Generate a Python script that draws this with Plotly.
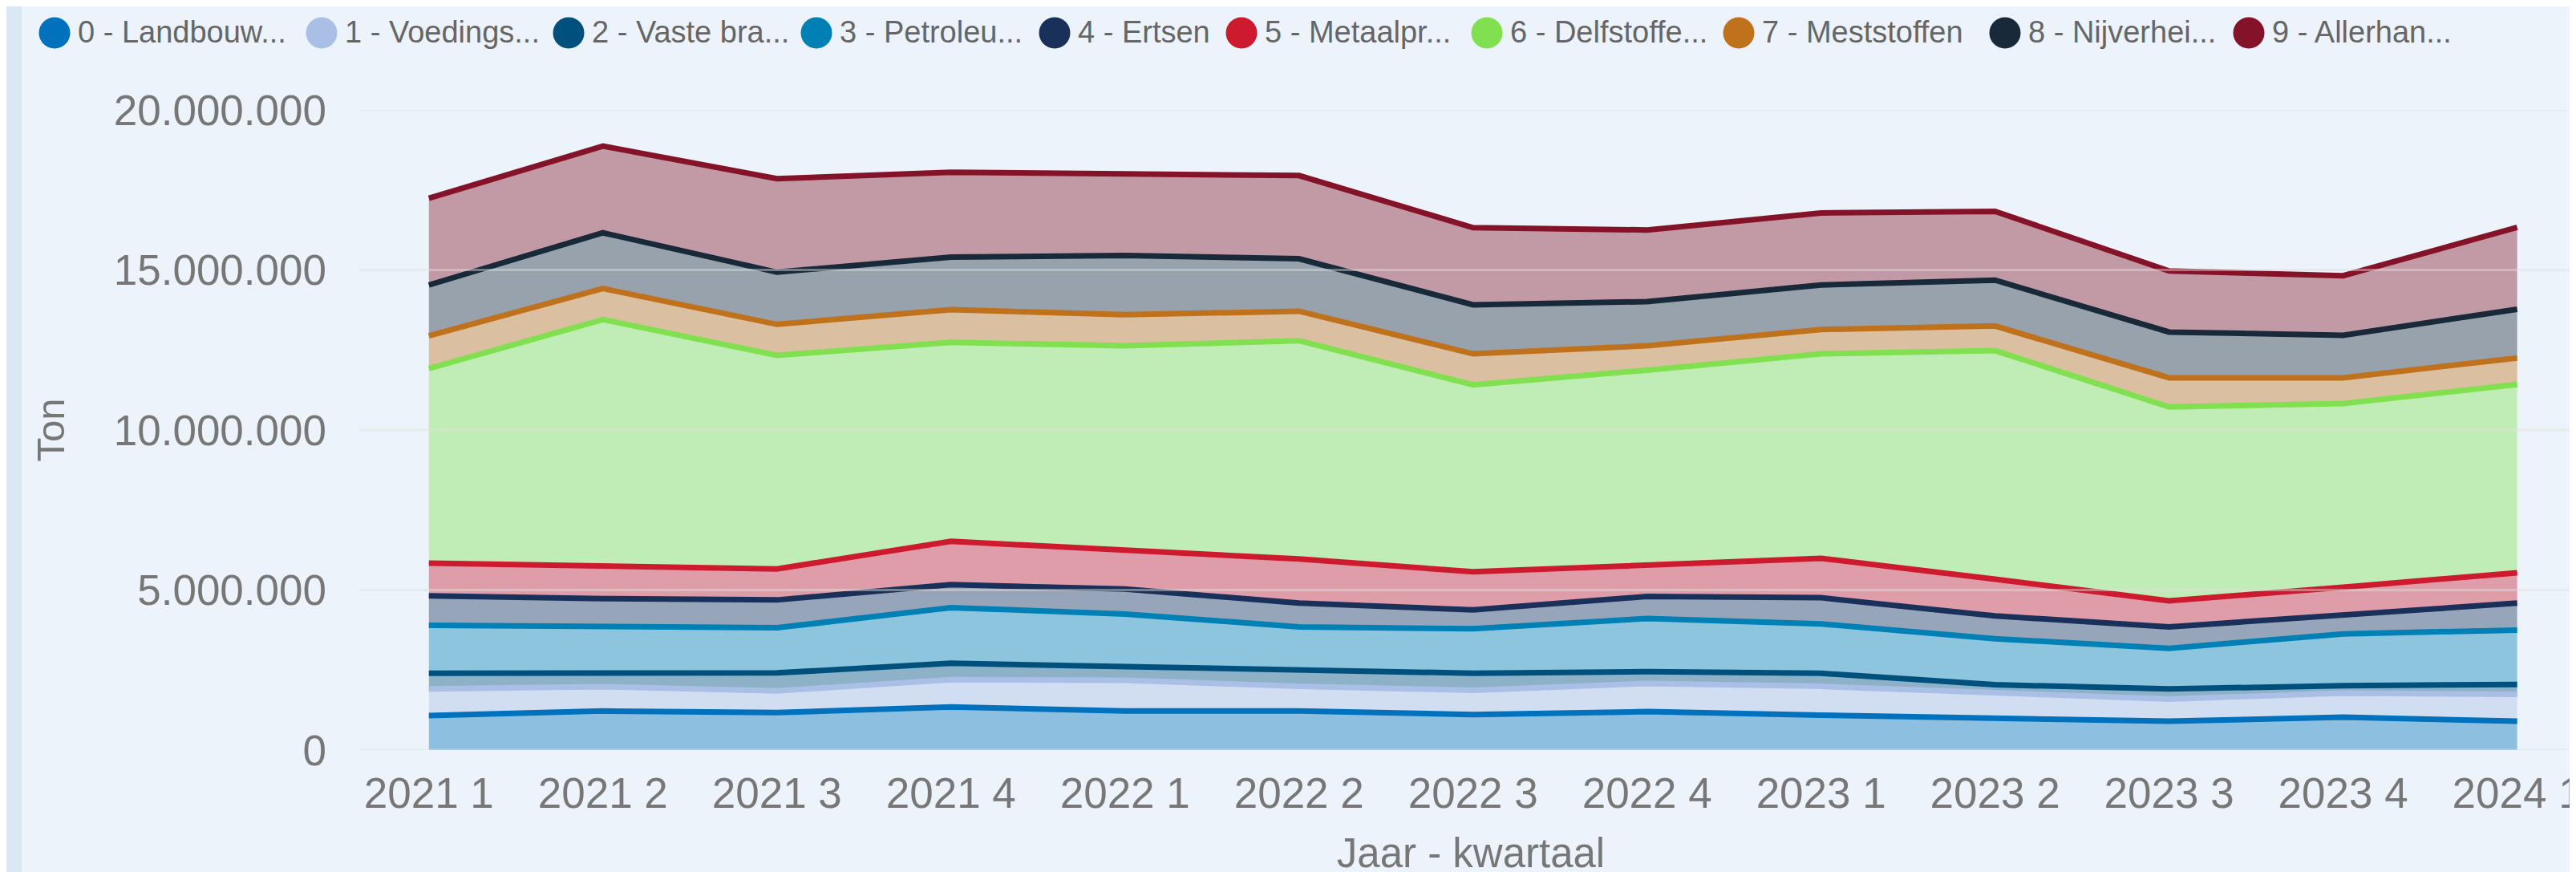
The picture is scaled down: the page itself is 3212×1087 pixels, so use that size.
import plotly.graph_objects as go

quarters = ["2021 1", "2021 2", "2021 3", "2021 4", "2022 1", "2022 2", "2022 3",
            "2022 4", "2023 1", "2023 2", "2023 3", "2023 4", "2024 1"]

names = ["0 - Landbouw...", "1 - Voedings...", "2 - Vaste bra...", "3 - Petroleu...",
         "4 - Ertsen", "5 - Metaalpr...", "6 - Delfstoffe...", "7 - Meststoffen",
         "8 - Nijverhei...", "9 - Allerhan..."]

landbouw = [1080000, 1220000, 1170000, 1350000, 1220000, 1220000, 1110000, 1200000, 1090000, 1010000, 900000, 1030000, 900000]
voedings = [830000, 760000, 680000, 850000, 960000, 770000, 760000, 880000, 900000, 770000, 690000, 750000, 840000]
vaste_brandstoffen = [490000, 420000, 560000, 510000, 440000, 500000, 530000, 370000, 410000, 260000, 320000, 230000, 310000]
petroleum = [1500000, 1450000, 1410000, 1740000, 1630000, 1360000, 1390000, 1660000, 1540000, 1440000, 1270000, 1620000, 1700000]
ertsen = [920000, 880000, 870000, 720000, 780000, 740000, 590000, 690000, 820000, 710000, 670000, 580000, 840000]
metaal = [1020000, 1030000, 970000, 1350000, 1220000, 1380000, 1190000, 960000, 1230000, 1150000, 810000, 880000, 950000]
delfstoffen = [6080000, 7690000, 6670000, 6220000, 6380000, 6820000, 5840000, 6110000, 6390000, 7140000, 6060000, 5740000, 5880000]
meststoffen = [1020000, 970000, 970000, 1020000, 970000, 920000, 970000, 760000, 760000, 770000, 910000, 800000, 830000]
nijverheid = [1590000, 1740000, 1630000, 1640000, 1850000, 1640000, 1530000, 1380000, 1390000, 1430000, 1430000, 1330000, 1520000]
allerhande = [2710000, 2710000, 2920000, 2650000, 2550000, 2600000, 2410000, 2240000, 2250000, 2150000, 1910000, 1860000, 2560000]

series = [landbouw, voedings, vaste_brandstoffen, petroleum, ertsen, metaal,
          delfstoffen, meststoffen, nijverheid, allerhande]

colors = ["#0071BC", "#AABFE5", "#00507E", "#0080B4", "#19305A", "#CD1A2F",
          "#80E050", "#C0711C", "#18293A", "#841329"]

y_ticks = [0, 5000000, 10000000, 15000000, 20000000]

W, H = 3212, 1087
ML, MR, MT, MB = 440, 0, 129, 160
PW, PH = W - ML - MR, H - MT - MB
BG = "#ECF3FA"

# legend layout (pixel centres of the legend dots, measured on the page)
legend_dot_x = [60, 393, 701, 1010, 1307, 1540, 1846, 2160, 2492, 2796]
LEG_Y, DOT_R, TEXT_DX = 33, 19.5, 27


def rgba(hexc, a):
    h = hexc.lstrip("#")
    r, g, b = int(h[0:2], 16), int(h[2:4], 16), int(h[4:6], 16)
    return f"rgba({r},{g},{b},{a})"


def px_x(px):
    return (px - ML) / PW


def px_y(py):
    return 1 + (MT - py) / PH


fig = go.Figure()
for name, vals, col in zip(names, series, colors):
    fig.add_trace(go.Scatter(
        x=quarters, y=vals, name=name, mode="lines",
        stackgroup="one", line=dict(color=col, width=7),
        fillcolor=rgba(col, 0.4), showlegend=False,
    ))

# gridlines drawn over the areas (semi-transparent)
for v in y_ticks:
    fig.add_shape(type="line", xref="paper", yref="y", x0=0, x1=1, y0=v, y1=v,
                  line=dict(color="rgba(226,224,219,0.45)", width=3), layer="above")

# left decorative strip
fig.add_shape(type="rect", xref="paper", yref="paper",
              x0=px_x(-5), x1=px_x(19), y0=px_y(H + 5), y1=px_y(-5),
              fillcolor="#D9E8F3", line=dict(width=0), layer="below")

# legend: dots + labels
for name, col, cx in zip(names, colors, legend_dot_x):
    fig.add_shape(type="circle", xref="paper", yref="paper",
                  x0=px_x(cx - DOT_R), x1=px_x(cx + DOT_R),
                  y0=px_y(LEG_Y + DOT_R), y1=px_y(LEG_Y - DOT_R),
                  fillcolor=col, line=dict(width=0), layer="above")
    fig.add_annotation(text=name, xref="paper", yref="paper",
                       x=px_x(cx + TEXT_DX), y=px_y(LEG_Y - 1),
                       xanchor="left", yanchor="middle", showarrow=False,
                       font=dict(family="Liberation Sans", size=38, color="#666666"))

fig.update_layout(
    width=W, height=H,
    margin=dict(l=ML, r=MR, t=MT, b=MB, pad=0),
    paper_bgcolor=BG, plot_bgcolor=BG,
    separators=",.",
    showlegend=False,
    font=dict(family="Liberation Sans", color="#777777"),
)
fig.update_xaxes(
    type="category", range=[-0.4, 12.375], showgrid=False, zeroline=False,
    showline=False, ticks="", tickfont=dict(size=53, color="#777777"),
    ticklabelstandoff=18, automargin=False,
    title=dict(text="Jaar - kwartaal", font=dict(size=51, color="#777777"), standoff=28),
)
fig.update_yaxes(
    range=[0, 20000000], tickvals=y_ticks, tickformat=",d", showgrid=False,
    zeroline=False, showline=False, ticks="", automargin=False,
    tickfont=dict(size=53, color="#777777"), ticklabelstandoff=40,
    title=dict(text="Ton", font=dict(size=49, color="#777777"), standoff=45),
)

fig.write_html("out.html")
